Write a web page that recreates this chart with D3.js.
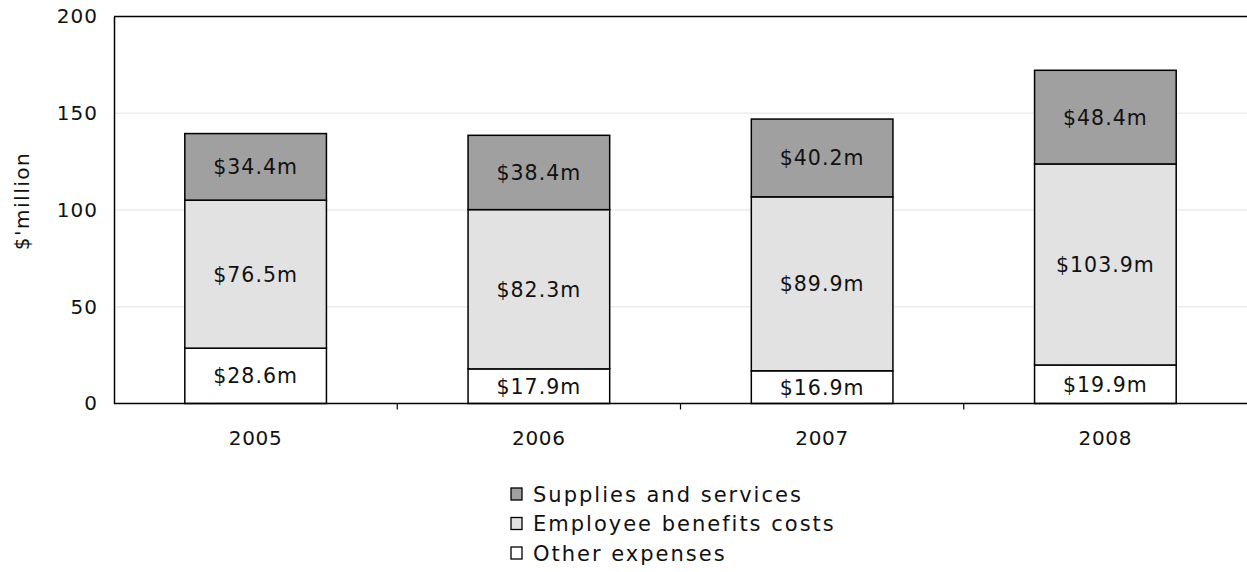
<!DOCTYPE html>
<html>
<head>
<meta charset="utf-8">
<script src="https://cdn.jsdelivr.net/npm/d3@7"></script>
<style>
  html, body { margin: 0; padding: 0; background: #fff; }
  svg { display: block; font-family: "DejaVu Sans", Verdana, sans-serif; }
</style>
</head>
<body>
<svg id="chart" width="1247" height="572"></svg>
<script>
// Expense categories by year ($ million)
const years = ["2005", "2006", "2007", "2008"];
const otherExpenses = [28.6, 17.9, 16.9, 19.9];
const employeeBenefits = [76.5, 82.3, 89.9, 103.9];
const suppliesServices = [34.4, 38.4, 40.2, 48.4];
const yTicks = [0, 50, 100, 150, 200];

const seriesNames = ["Other expenses", "Employee benefits costs", "Supplies and services"];
const seriesColors = ["#ffffff", "#e2e2e2", "#a0a0a0"];
const legendOrder = [2, 1, 0];

const rows = years.map((y, i) => ({
  year: y,
  "Other expenses": otherExpenses[i],
  "Employee benefits costs": employeeBenefits[i],
  "Supplies and services": suppliesServices[i]
}));

const FONT = "DejaVu Sans, Verdana, sans-serif";
const svg = d3.select("#chart");
const margin = { left: 114, right: 0, top: 16.5, bottom: 168.5 };
const W = 1247, H = 572;

const x = d3.scaleBand().domain(years)
  .range([margin.left, W - margin.right])
  .paddingInner(0.5).paddingOuter(0.25);
const y = d3.scaleLinear().domain([0, 200]).range([H - margin.bottom, margin.top]);

// light gridlines
svg.append("g").selectAll("line")
  .data(yTicks.filter(t => t > 0 && t < 200))
  .join("line")
  .attr("x1", margin.left).attr("x2", W)
  .attr("y1", d => y(d)).attr("y2", d => y(d))
  .attr("stroke", "#ececec").attr("stroke-width", 1.5);

// top border
svg.append("line")
  .attr("x1", margin.left).attr("x2", W)
  .attr("y1", y(200)).attr("y2", y(200))
  .attr("stroke", "#000").attr("stroke-width", 1.5);

// stacked bars
const stack = d3.stack().keys(seriesNames);
const stacked = stack(rows);

const layers = svg.append("g").selectAll("g")
  .data(stacked)
  .join("g")
  .attr("fill", (d, i) => seriesColors[i]);

layers.selectAll("rect")
  .data(d => d)
  .join("rect")
  .attr("x", d => x(d.data.year))
  .attr("width", x.bandwidth())
  .attr("y", d => y(d[1]))
  .attr("height", d => y(d[0]) - y(d[1]))
  .attr("stroke", "#000")
  .attr("stroke-width", 1.5);

// value labels
layers.selectAll("text")
  .data(d => d.map(v => ({ v, key: d.key })))
  .join("text")
  .attr("x", d => x(d.v.data.year) + x.bandwidth() / 2)
  .attr("y", d => (y(d.v[0]) + y(d.v[1])) / 2)
  .attr("dy", "0.36em")
  .attr("text-anchor", "middle")
  .attr("fill", "#111")
  .attr("font-size", 20.5)
  .attr("letter-spacing", 1)
  .text(d => "$" + d.v.data[d.key].toFixed(1) + "m");

// y axis
const yAxis = svg.append("g")
  .attr("transform", `translate(${margin.left},0)`)
  .call(d3.axisLeft(y).tickValues(yTicks).tickSize(0).tickPadding(16));
yAxis.select(".domain").attr("stroke", "#000").attr("stroke-width", 1.5);
yAxis.selectAll("text").attr("font-size", 20).attr("fill", "#111")
  .attr("font-family", FONT).attr("letter-spacing", 1);

// x axis with ticks at category boundaries
const xAxisG = svg.append("g").attr("transform", `translate(0,${y(0)})`);
xAxisG.append("line")
  .attr("x1", margin.left).attr("x2", W)
  .attr("stroke", "#000").attr("stroke-width", 1.5);
const step = x.step();
const bounds = years.slice(1).map(yr => x(yr) - (step - x.bandwidth()) / 2);
xAxisG.selectAll("line.tick")
  .data(bounds)
  .join("line")
  .attr("class", "tick")
  .attr("x1", d => d).attr("x2", d => d)
  .attr("y1", 0).attr("y2", 6)
  .attr("stroke", "#000").attr("stroke-width", 1.2);
xAxisG.selectAll("text")
  .data(years)
  .join("text")
  .attr("x", d => x(d) + x.bandwidth() / 2)
  .attr("y", 34)
  .attr("dy", "0.36em")
  .attr("text-anchor", "middle")
  .attr("font-size", 20)
  .attr("fill", "#111")
  .attr("letter-spacing", 0.7)
  .text(d => d);

// y axis title
svg.append("text")
  .attr("transform", "translate(22,201) rotate(-90)")
  .attr("text-anchor", "middle")
  .attr("dy", "0.36em")
  .attr("font-size", 20)
  .attr("fill", "#111")
  .attr("letter-spacing", 1.5)
  .text("$'million");

// legend
const legend = svg.append("g").attr("transform", "translate(511,488)");
legendOrder.forEach((si, row) => {
  const g = legend.append("g").attr("transform", `translate(0,${row * 29.5})`);
  g.append("rect")
    .attr("x", 0).attr("y", 0).attr("width", 11).attr("height", 12)
    .attr("fill", seriesColors[si]).attr("stroke", "#000").attr("stroke-width", 1.3);
  g.append("text")
    .attr("x", 22).attr("y", 6).attr("dy", "0.36em")
    .attr("font-size", 21).attr("fill", "#111")
    .attr("letter-spacing", 2)
    .text(seriesNames[si]);
});
</script>
</body>
</html>
